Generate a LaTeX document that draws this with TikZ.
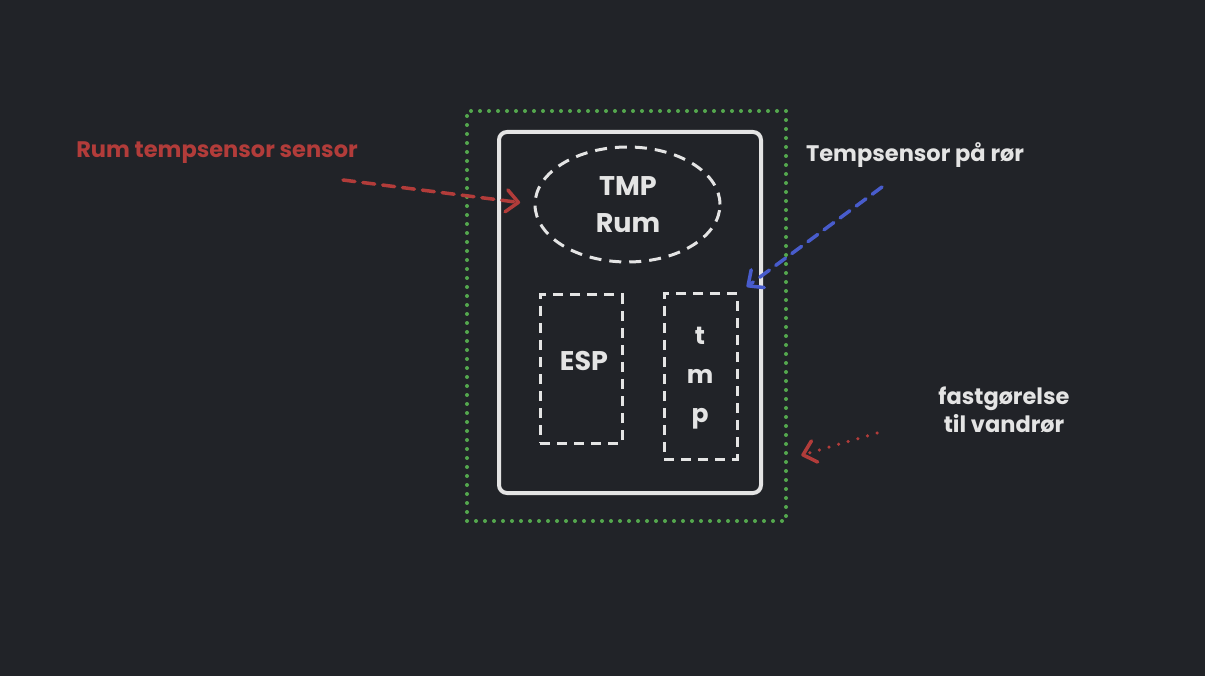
\documentclass[tikz,border=0pt]{standalone}
\usepackage{fontspec}
\setmainfont{Poppins}
\usetikzlibrary{arrows.meta,shapes.geometric,calc}
\definecolor{bgc}{RGB}{33,35,40}
\definecolor{fg}{RGB}{228,228,228}
\definecolor{redc}{RGB}{178,60,58}
\definecolor{bluec}{RGB}{72,92,204}
\definecolor{greenc}{RGB}{84,168,78}
\tikzset{
  whiteline/.style={draw=fg, line width=3pt, dash pattern=on 10pt off 7pt, inner sep=0pt, outer sep=0pt},
  devbox/.style={draw=fg, line width=4pt, rounded corners=8pt, inner sep=0pt, outer sep=0pt},
  mountbox/.style={draw=greenc, line width=4pt, line cap=round, dash pattern=on 0pt off 9pt, inner sep=0pt, outer sep=0pt},
  lbl/.style={text=fg, font=\fontsize{22.5}{28}\selectfont\bfseries, align=center, inner sep=0pt},
  innerlbl/.style={lbl, font=\fontsize{27}{37}\selectfont\bfseries},
  redlbl/.style={lbl, text=redc},
  tip/.style={-{Straight Barb[length=12pt,width=22pt,line cap=round,line join=round]}},
  redarrow/.style={tip, draw=redc, line width=3.5pt, dash pattern=on 12pt off 8pt, line cap=round},
  bluearrow/.style={tip, draw=bluec, line width=3.5pt, dash pattern=on 12pt off 8pt, line cap=round},
  dotarrow/.style={tip, draw=redc, line width=3.5pt, dash pattern=on 0pt off 10pt, line cap=round}
}
\begin{document}
\begin{tikzpicture}[x=1pt,y=-1pt]
\fill[bgc] (0,0) rectangle (1205,676);
\useasboundingbox (0,0) rectangle (1205,676);
% mounting (dotted green)
\node[mountbox, minimum width=319pt, minimum height=410pt] (mount) at (626.5,316) {};
% device
\node[devbox, minimum width=262pt, minimum height=361pt] (dev) at (630,312.5) {};
% room sensor
\node[whiteline, dash pattern=on 12pt off 8pt, ellipse, minimum width=185pt, minimum height=115pt] (tmproom) at (627.5,204.5) {};
\node[innerlbl] (tmproomlbl) at (628,204.5) {TMP\\Rum};
% ESP
\node[whiteline, minimum width=82pt, minimum height=148pt] (esp) at (581,369) {};
\node[innerlbl] (esplbl) at (584,361) {ESP};
% pipe sensor
\node[whiteline, minimum width=73pt, minimum height=165pt] (tmpbox) at (700.5,376.5) {};
\node[innerlbl, font=\fontsize{25}{39}\selectfont\bfseries] (tmplbl) at (700,378) {t\\m\\p};
% labels
\node[redlbl] (lblroom) at (217,153) {Rum tempsensor sensor};
\node[lbl] (lblpipe) at (915,155) {Tempsensor på rør};
\node[lbl] (lblmount) at (1004,410) {fastgørelse\\til vandrør};
% arrows
\coordinate (a1s) at (343,180);
\coordinate (a2s) at (882,187);
\coordinate (a3s) at (877,433);
\coordinate (mountpt) at ($(mount.north east)!0.851!(mount.south east)$);
\draw[redarrow, shorten >=15pt] (a1s) -- (tmproom.west);
\draw[bluearrow, shorten >=12pt] (a2s) -- (tmpbox.north east);
\draw[dotarrow, shorten >=16pt] (a3s) -- (mountpt);
\end{tikzpicture}
\end{document}
